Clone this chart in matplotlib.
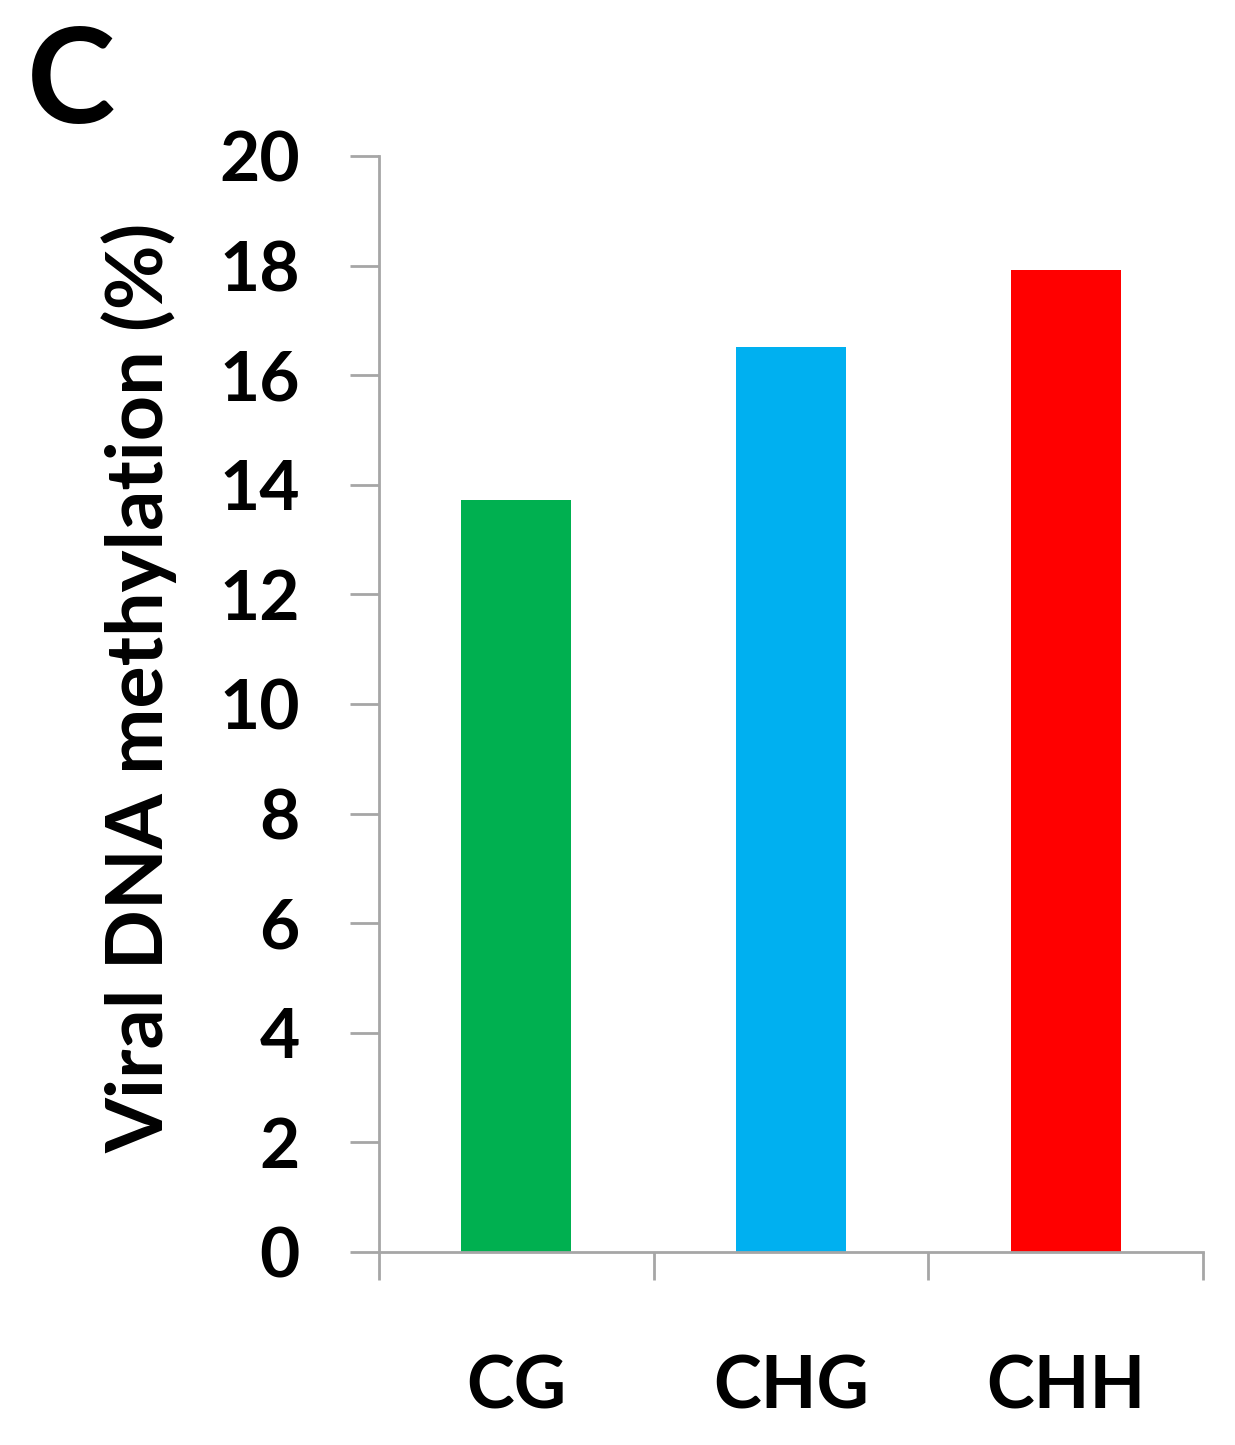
import matplotlib
matplotlib.use("Agg")
import matplotlib.pyplot as plt

categories = ["CG", "CHG", "CHH"]
values = [13.72, 16.51, 17.92]
colors = ["#00B050", "#00B0F0", "#FF0000"]
yticks = [0, 2, 4, 6, 8, 10, 12, 14, 16, 18, 20]

plt.rcParams['font.family'] = ['Lato', 'DejaVu Sans']
fig = plt.figure(figsize=(12.35, 14.45), dpi=100)
ax = fig.add_axes([0.3069, 0.1336, 0.6672, 0.7585])

x = list(range(len(categories)))
ax.bar(x, values, width=0.4, color=colors)
ax.set_xlim(-0.5, 2.5)
ax.set_ylim(0, 20)
ax.set_yticks(yticks)
ax.set_yticklabels([str(t) for t in yticks], fontsize=50, fontweight='bold')
ax.set_xticks([-0.5, 0.5, 1.5, 2.5])
ax.set_xticklabels([])
ax.set_xticks(x, minor=True)
ax.set_xticklabels(categories, minor=True, fontsize=52, fontweight='bold')
ax.tick_params(axis='x', which='minor', length=0, pad=74)
ax.tick_params(axis='x', which='major', length=20, width=2, color='#A6A6A6', direction='out')
ax.tick_params(axis='y', length=21, width=2, color='#A6A6A6', direction='out', pad=36)
for s in ['top', 'right']:
    ax.spines[s].set_visible(False)
for s in ['left', 'bottom']:
    ax.spines[s].set_color('#A6A6A6')
    ax.spines[s].set_linewidth(2)
ax.set_ylabel("Viral DNA methylation (%)", fontsize=57, fontweight='bold', labelpad=30)
ax.yaxis.label.set_y(0.515)
fig.text(0.022, 0.915, "C", fontsize=96, fontweight='bold')
fig.savefig("out.png", dpi=100)
